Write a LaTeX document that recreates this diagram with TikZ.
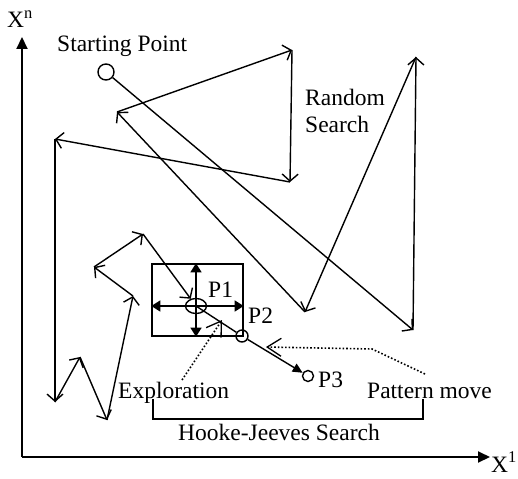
\documentclass[tikz,border=0pt]{standalone}
\usepackage{fontspec}
\setmainfont{Liberation Serif}
\usetikzlibrary{arrows.meta,shapes.geometric}
\begin{document}
\begin{tikzpicture}[x=1pt,y=-1pt,
  lbl/.style={inner sep=0pt, anchor=base west, font=\fontsize{23.5}{28}\selectfont},
  rs/.style={line width=1.4pt, -{Straight Barb[length=7pt,width=16pt]}},
  axisline/.style={line width=2pt, -{Triangle[length=12pt,width=11pt]}},
  crossarr/.style={line width=1.4pt, {Triangle[length=9pt,width=11pt]}-{Triangle[length=9pt,width=11pt]}},
  pointer/.style={dotted, line width=1.6pt, -{Straight Barb[length=14pt,width=18pt,line width=1.3pt]}},
  ring/.style={draw, circle, inner sep=0pt, line width=1.4pt}
]
\useasboundingbox (0,0) rectangle (518,478);
% axes
\coordinate (o) at (22,457);
\coordinate (ytip) at (22,37);
\coordinate (xtip) at (490,457);
\draw[axisline] (o) -- (ytip);
\draw[axisline] (o) -- (xtip);
\node[lbl] (xn) at (7,28) {X\textsuperscript{n}};
\node[lbl] (x1) at (491,472) {X\textsuperscript{1}};
% random search
\node[lbl] (sp) at (57,52) {Starting Point};
\node[ring, minimum size=16pt] (s) at (106,72) {};
\coordinate (a1) at (413,330);
\coordinate (a2) at (416,57);
\coordinate (a3) at (305,312);
\coordinate (a4) at (117,112);
\coordinate (a5) at (292,50);
\coordinate (a6) at (290,182);
\coordinate (a7) at (55,139);
\coordinate (a8) at (55,402);
\coordinate (a9) at (80,357);
\coordinate (a10) at (107,420);
\coordinate (a11) at (133,296);
\coordinate (a12) at (94,267);
\coordinate (a13) at (143,234);
\draw[rs] (s) -- (a1);
\draw[rs] (a1) -- (a2);
\draw[rs] (a2) -- (a3);
\draw[rs] (a3) -- (a4);
\draw[rs] (a4) -- (a5);
\draw[rs] (a5) -- (a6);
\draw[rs] (a6) -- (a7);
\draw[rs] (a7) -- (a8);
\draw[rs] (a8) -- (a9);
\draw[rs] (a9) -- (a10);
\draw[rs] (a10) -- (a11);
\draw[rs] (a11) -- (a12);
\draw[rs] (a12) -- (a13);
\node[lbl] (rnd) at (305,106) {Random};
\node[lbl] (srch) at (305,133) {Search};
% Hooke-Jeeves
\node[draw, line width=1.4pt, minimum width=91pt, minimum height=72pt, inner sep=0pt] (bx) at (197.5,300) {};
\node[draw, ellipse, line width=1.4pt, minimum width=21pt, minimum height=15pt, inner sep=0pt] (p1) at (196,306) {};
\draw[crossarr] (p1 |- bx.north) -- (p1 |- bx.south);
\draw[crossarr] (bx.west |- p1) -- (bx.east |- p1);
\draw[rs] (a13) -- (p1);
\node[ring, minimum size=12pt] (p2) at (242,336) {};
\node[ring, minimum size=11pt] (p3) at (308,376) {};
\draw[line width=1.4pt] (p1.center) -- (p2);
\draw[line width=1.4pt, -{Triangle[length=10pt,width=9pt]}] (p2) -- (p3);
\node[lbl] (lp1) at (208,297) {P1};
\node[lbl] (lp2) at (248,323) {P2};
\node[lbl] (lp3) at (318,387) {P3};
\node[lbl] (expl) at (118,398) {Exploration};
\node[lbl] (pm) at (367,398) {Pattern move};
\node[lbl] (hj) at (178,440) {Hooke-Jeeves Search};
\coordinate (exs) at (182,380);
\coordinate (ext) at (222,320);
\draw[pointer] (exs) -- (ext);
\coordinate (pms) at (425,374);
\coordinate (pmc) at (372,349);
\coordinate (pmt) at (266,347);
\draw[pointer] (pms) -- (pmc) -- (pmt);
\coordinate (b1) at (153,399);
\coordinate (b2) at (153,419);
\coordinate (b3) at (423,419);
\coordinate (b4) at (423,399);
\draw[line width=1.3pt] (b1) -- (b2) -- (b3) -- (b4);
\end{tikzpicture}
\end{document}
